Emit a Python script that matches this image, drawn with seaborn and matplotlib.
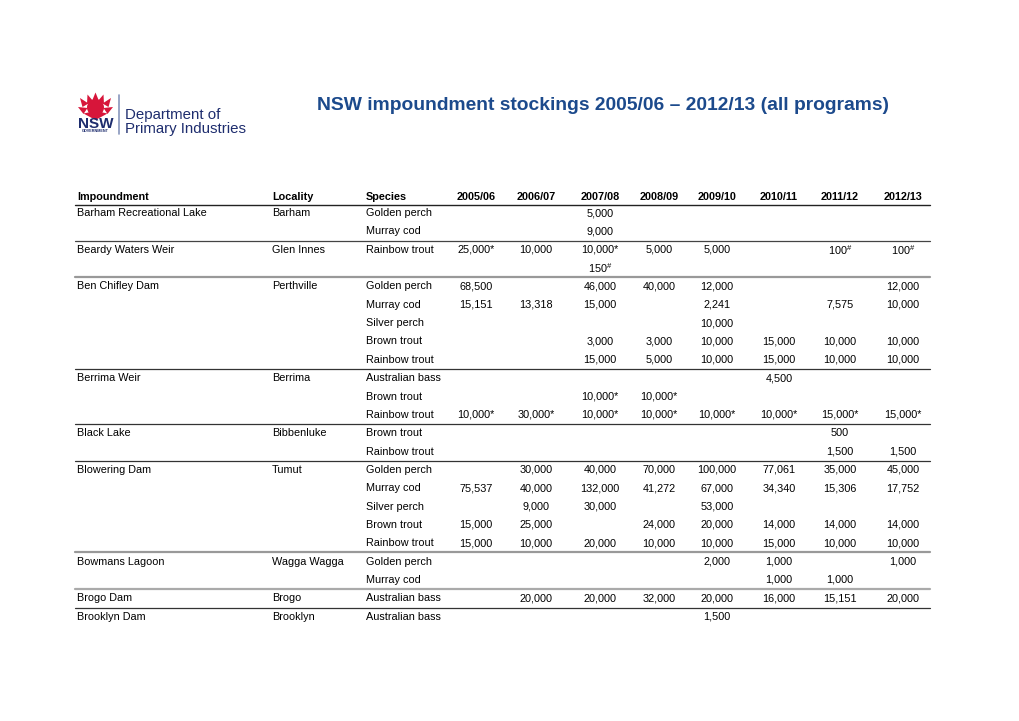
import matplotlib
matplotlib.use('Agg')
import matplotlib.pyplot as plt
from matplotlib.patches import Polygon, Ellipse
import seaborn as sns

# table content
years = ['2005/06', '2006/07', '2007/08', '2008/09', '2009/10', '2010/11', '2011/12', '2012/13']

impoundments = ['Barham Recreational Lake', '', 'Beardy Waters Weir', '', 'Ben Chifley Dam', '', '', '', '',
                'Berrima Weir', '', '', 'Black Lake', '', 'Blowering Dam', '', '', '', '',
                'Bowmans Lagoon', '', 'Brogo Dam', 'Brooklyn Dam']
localities = ['Barham', '', 'Glen Innes', '', 'Perthville', '', '', '', '',
              'Berrima', '', '', 'Bibbenluke', '', 'Tumut', '', '', '', '',
              'Wagga Wagga', '', 'Brogo', 'Brooklyn']
species = ['Golden perch', 'Murray cod', 'Rainbow trout', '', 'Golden perch', 'Murray cod', 'Silver perch',
           'Brown trout', 'Rainbow trout', 'Australian bass', 'Brown trout', 'Rainbow trout', 'Brown trout',
           'Rainbow trout', 'Golden perch', 'Murray cod', 'Silver perch', 'Brown trout', 'Rainbow trout',
           'Golden perch', 'Murray cod', 'Australian bass', 'Australian bass']

y0506 = ['', '', '25,000*', '', '68,500', '15,151', '', '', '', '', '', '10,000*', '', '', '', '75,537', '',
         '15,000', '15,000', '', '', '', '']
y0607 = ['', '', '10,000', '', '', '13,318', '', '', '', '', '', '30,000*', '', '', '30,000', '40,000', '9,000',
         '25,000', '10,000', '', '', '20,000', '']
y0708 = ['5,000', '9,000', '10,000*', '150#', '46,000', '15,000', '', '3,000', '15,000', '', '10,000*', '10,000*',
         '', '', '40,000', '132,000', '30,000', '', '20,000', '', '', '20,000', '']
y0809 = ['', '', '5,000', '', '40,000', '', '', '3,000', '5,000', '', '10,000*', '10,000*', '', '', '70,000',
         '41,272', '', '24,000', '10,000', '', '', '32,000', '']
y0910 = ['', '', '5,000', '', '12,000', '2,241', '10,000', '10,000', '10,000', '', '', '10,000*', '', '',
         '100,000', '67,000', '53,000', '20,000', '10,000', '2,000', '', '20,000', '1,500']
y1011 = ['', '', '', '', '', '', '', '15,000', '15,000', '4,500', '', '10,000*', '', '', '77,061', '34,340', '',
         '14,000', '15,000', '1,000', '1,000', '16,000', '']
y1112 = ['', '', '100#', '', '', '7,575', '', '10,000', '10,000', '', '', '15,000*', '500', '1,500', '35,000',
         '15,306', '', '14,000', '10,000', '', '1,000', '15,151', '']
y1213 = ['', '', '100#', '', '12,000', '10,000', '', '10,000', '10,000', '', '', '15,000*', '', '1,500', '45,000',
         '17,752', '', '14,000', '10,000', '1,000', '', '20,000', '']

# last row of each impoundment group
group_ends = [1, 3, 8, 11, 13, 18, 20, 21]

sns.set_theme(style='white')
plt.rcParams['font.family'] = ['Liberation Sans', 'DejaVu Sans']
plt.rcParams['mathtext.fontset'] = 'custom'
plt.rcParams['mathtext.rm'] = 'Liberation Sans'

fig = plt.figure(figsize=(10.2, 7.21), dpi=100)
fig.patch.set_facecolor('white')

# table axes: x in pixels, y in row units (row pitch 18.35 px, first row at 213 px)
ax = fig.add_axes([0, 0, 1, 1])
ax.set_xlim(0, 1020)
ax.set_ylim((721 - 213) / 18.35, -213 / 18.35)
ax.axis('off')

fs = 7.8
hdr_x = [77, 272, 366]
col_x = [476, 536, 600, 659, 717, 779, 840, 903]

for x, h in zip(hdr_x, ['Impoundment', 'Locality', 'Species']):
    ax.text(x, -0.85, h, fontsize=fs, fontweight='bold', ha='left', va='center', color='black')
for x, h in zip(col_x, years):
    ax.text(x, -0.85, h, fontsize=fs, fontweight='bold', ha='center', va='center', color='black')
ax.plot([75, 930], [-0.45, -0.45], color='#222222', lw=1.0)


def fmt(s):
    if s.endswith('#'):
        return s[:-1] + r'$^{\#}$'
    return s


cols = [y0506, y0607, y0708, y0809, y0910, y1011, y1112, y1213]
for i in range(len(species)):
    ax.text(77, i, impoundments[i], fontsize=fs, ha='left', va='center', color='black')
    ax.text(272, i, localities[i], fontsize=fs, ha='left', va='center', color='black')
    ax.text(366, i, species[i], fontsize=fs, ha='left', va='center', color='black')
    for x, col in zip(col_x, cols):
        if col[i]:
            ax.text(x, i, fmt(col[i]), fontsize=fs, ha='center', va='center', color='black')

line_cols = ['#444444', '#999999', '#333333', '#333333', '#333333', '#999999', '#aaaaaa', '#333333']
line_ws = [0.9, 1.6, 0.9, 0.9, 0.9, 1.6, 1.6, 0.9]
for g, c, w in zip(group_ends, line_cols, line_ws):
    ax.plot([75, 930], [g + 0.5, g + 0.5], color=c, lw=w)

# title
fig.text(603 / 1020, 1 - 106 / 721, 'NSW impoundment stockings 2005/06 \u2013 2012/13 (all programs)',
         fontsize=13.9, fontweight='bold', color='#1C4A8C', ha='center', va='center')

# logo
lax = fig.add_axes([75 / 1020, 1 - 137 / 721, 175 / 1020, 45 / 721])
lax.set_xlim(0, 175)
lax.set_ylim(45, 0)
lax.axis('off')
red = '#D7153A'
navy = '#1E2D6E'
# waratah petals
petals = [
    [(20.5, 0.5), (17, 9), (24, 9)],
    [(12.5, 2.5), (12, 12), (18.5, 9.5)],
    [(28.5, 2.5), (22.5, 9.5), (29, 12)],
    [(5, 6), (7.5, 15), (13.5, 11.5)],
    [(36, 6), (27.5, 11.5), (33.5, 15)],
    [(3, 15), (8.5, 22), (12.5, 16)],
    [(38, 15), (28.5, 16), (32.5, 22)],
]
for p in petals:
    lax.add_patch(Polygon(p, closed=True, color=red, lw=0))
lax.add_patch(Ellipse((20.5, 15.5), 17, 17, color=red, lw=0))
lax.add_patch(Polygon([(8.5, 21.5), (20.5, 28), (32.5, 21.5), (20.5, 19)], closed=True, color=red, lw=0))
lax.text(20.5, 32.5, 'NSW', fontsize=11, fontweight='bold', color=navy, ha='center', va='center')
lax.text(20.5, 39.5, 'GOVERNMENT', fontsize=2.7, fontweight='bold', color=navy, ha='center', va='center')
lax.plot([44, 44], [3, 42], color='#8896BC', lw=1.2)
lax.text(50, 23, 'Department of', fontsize=10.8, color=navy, ha='left', va='center')
lax.text(50, 36.5, 'Primary Industries', fontsize=10.8, color=navy, ha='left', va='center')

fig.savefig('out.png', dpi=100, facecolor='white')
